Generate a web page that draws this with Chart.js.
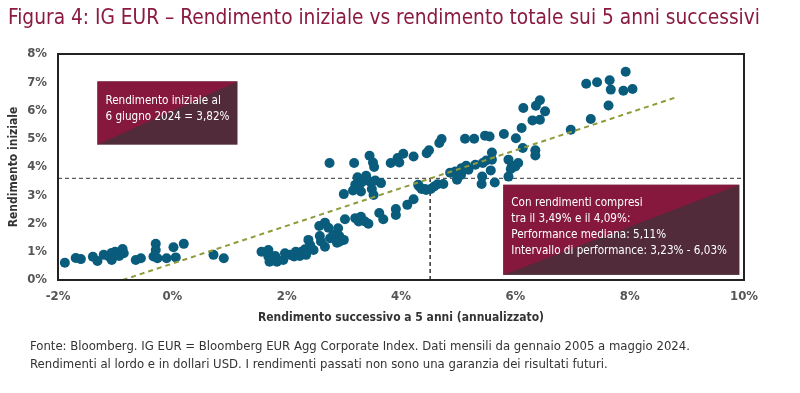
<!DOCTYPE html>
<html lang="it">
<head>
<meta charset="utf-8">
<script src="https://cdn.jsdelivr.net/npm/chart.js@4"></script>
<style>
  body { margin: 0; background: #fff; }
  #wrap { position: relative; width: 800px; height: 393px; overflow: hidden; }
  #chart { position: absolute; left: 0; top: 0; }
  .title {
    position: absolute; left: 8px; top: 5px; white-space: nowrap;
    font-family: "DejaVu Sans Condensed", "Liberation Sans Narrow", sans-serif;
    font-size: 20.7px; color: #8b1a42;
  }
  .note {
    position: absolute; left: 30px; top: 337px; white-space: nowrap;
    font-family: "DejaVu Sans Condensed", "Liberation Sans Narrow", sans-serif;
    font-size: 13px; line-height: 18px; color: #333;
  }
</style>
</head>
<body>
<div id="wrap">
  <canvas id="chart" width="800" height="393"></canvas>
  <div class="title">Figura 4: IG EUR – Rendimento iniziale vs rendimento totale sui 5 anni successivi</div>
  <div class="note">Fonte: Bloomberg. IG EUR = Bloomberg EUR Agg Corporate Index. Dati mensili da gennaio 2005 a maggio 2024.<br>Rendimenti al lordo e in dollari USD. I rendimenti passati non sono una garanzia dei risultati futuri.</div>
</div>
<script>
const FONT = '"DejaVu Sans Condensed", "Liberation Sans Narrow", sans-serif';

// rendimento successivo a 5 anni (x) / rendimento iniziale (y), in %
const forwardReturn = [
  -1.88, -1.69, -1.60, -1.39, -1.31, -1.20, -1.11, -1.06, -1.06, -1.00, -0.97, -0.93, -0.87, -0.85,
  -0.64, -0.55, -0.33, -0.29, -0.29, -0.26, -0.10, 0.02, 0.06, 0.20, 0.72, 0.90,
  1.56, 1.68, 1.70, 1.68, 1.80, 1.83, 1.94, 1.97, 2.06, 2.12, 2.13, 2.16, 2.23, 2.26, 2.29, 2.32,
  2.34, 2.38, 2.41, 2.47, 2.57, 2.58, 2.60, 2.67, 2.67, 2.73, 2.76, 2.82, 2.88, 2.90, 2.92, 2.93,
  3.00, 3.02, 3.20, 3.26, 3.30, 3.37, 3.43, 3.62, 3.69, 3.91, 3.91, 4.11, 4.22,
  2.75, 3.00, 3.16, 3.18, 3.20, 3.24, 3.30, 3.31, 3.39, 3.45, 3.51, 3.53, 3.45, 3.55, 3.65, 3.49, 3.52,
  3.82, 3.94, 3.97, 4.04, 4.22, 4.45, 4.49, 4.67, 4.71, 5.12, 5.28, 5.47, 5.55, 5.80, 6.01,
  6.11, 6.14, 6.30, 6.43, 6.36, 6.43, 6.52, 6.97, 7.32, 7.63, 7.24, 7.43, 7.65, 7.67, 7.89, 7.93, 8.05,
  4.30, 4.32, 4.36, 4.42, 4.44, 4.52, 4.58, 4.64, 4.74, 4.86, 4.92, 4.95, 4.98, 5.05, 5.06, 5.14,
  5.18, 5.30, 5.43, 5.49, 5.42, 5.41, 5.57, 5.59, 5.59, 5.64, 5.88, 5.94, 5.92, 5.88, 6.00, 6.05,
  6.13, 6.35, 6.35
];
const startYield = [
  0.61, 0.78, 0.74, 0.82, 0.67, 0.89, 0.83, 0.71, 0.96, 1.00, 0.92, 0.85, 1.10, 0.95,
  0.71, 0.77, 0.83, 1.28, 1.06, 0.77, 0.77, 1.16, 0.80, 1.28, 0.89, 0.77,
  1.00, 1.06, 0.65, 0.83, 0.85, 0.65, 0.71, 0.95, 0.89, 0.85, 0.83, 1.00, 0.85, 1.00, 0.97, 1.09,
  0.89, 1.42, 1.24, 1.06, 1.91, 1.56, 1.36, 2.03, 1.18, 1.85, 1.48, 1.60, 1.32, 1.83, 1.56, 1.36,
  1.42, 2.15, 2.19, 2.07, 2.24, 2.07, 1.99, 2.37, 2.15, 2.51, 2.30, 2.66, 2.86,
  4.14, 3.04, 3.17, 4.14, 3.37, 3.64, 3.13, 3.45, 3.69, 4.40, 4.16, 4.00, 3.49, 3.52, 3.43, 3.22, 3.01,
  4.14, 4.32, 4.16, 4.47, 4.37, 4.49, 4.59, 4.85, 4.99, 5.00, 5.00, 5.11, 5.08, 5.17, 5.02,
  5.38, 6.09, 5.65, 5.67, 6.17, 6.36, 5.97, 5.32, 5.70, 6.18, 6.95, 7.00, 7.07, 6.74, 6.70, 7.37, 6.76,
  3.37, 3.31, 3.22, 3.22, 3.19, 3.22, 3.31, 3.39, 3.40, 3.80, 3.80, 3.84, 3.55, 3.72, 3.96, 4.04,
  3.90, 4.08, 4.14, 4.23, 3.66, 3.40, 3.88, 4.51, 4.26, 3.45, 4.26, 4.04, 3.93, 3.66, 4.02, 4.14,
  4.67, 4.59, 4.41
];

// linea di tendenza (estremi) e riferimenti
const trendX = [-0.87, 8.83];
const trendY = [0, 6.48];
const currentYield = 3.6;
const matchReturn = 4.51;

const xTicks = [-2, 0, 2, 4, 6, 8, 10];
const yTicks = [0, 1, 2, 3, 4, 5, 6, 7, 8];

// riquadri: [xMin, xMax, yMin, yMax]
const box1Range = [-1.31, 1.14, 4.79, 7.03];
const box1Lines = ['Rendimento iniziale al', '6 giugno 2024 = 3,82%'];
const box2Range = [5.79, 9.92, 0.18, 3.37];
const box2Lines = ['Con rendimenti compresi', 'tra il 3,49% e il 4,09%:', 'Performance mediana: 5,11%', 'Intervallo di performance: 3,23% - 6,03%'];

const points = forwardReturn.map((x, i) => ({ x, y: startYield[i] }));

const frame = {
  id: 'frame',
  afterDatasetsDraw(chart) {
    const { ctx, chartArea: a, scales: { x, y } } = chart;
    const drawBox = (r, lines, first) => {
      const l = x.getPixelForValue(r[0]), rt = x.getPixelForValue(r[1]);
      const b = y.getPixelForValue(r[2]), t = y.getPixelForValue(r[3]);
      ctx.save();
      ctx.fillStyle = '#512b39';
      ctx.fillRect(l, t, rt - l, b - t);
      ctx.beginPath();
      ctx.moveTo(l, t); ctx.lineTo(rt, t); ctx.lineTo(l, b); ctx.closePath();
      ctx.fillStyle = '#86183d';
      ctx.fill();
      ctx.fillStyle = '#fff';
      ctx.font = '11.6px ' + FONT;
      ctx.textBaseline = 'middle';
      lines.forEach((s, i) => ctx.fillText(s, l + 8, t + first + i * 16));
      ctx.restore();
    };
    drawBox(box1Range, box1Lines, 20);
    drawBox(box2Range, box2Lines, 18);
    ctx.save();
    ctx.strokeStyle = '#222';
    ctx.lineWidth = 2;
    ctx.strokeRect(a.left, a.top, a.right - a.left, a.bottom - a.top);
    ctx.restore();
  }
};

new Chart(document.getElementById('chart'), {
  type: 'scatter',
  data: {
    datasets: [
      {
        data: points,
        backgroundColor: '#0a5c7d',
        borderWidth: 0,
        pointRadius: 5,
        order: 1
      },
      {
        type: 'line',
        data: trendX.map((x, i) => ({ x, y: trendY[i] })),
        borderColor: '#8f9b3b',
        borderWidth: 2,
        borderDash: [5, 4],
        pointRadius: 0,
        order: 0
      },
      {
        type: 'line',
        data: [{ x: -2, y: currentYield }, { x: 10, y: currentYield }],
        borderColor: '#333',
        borderWidth: 1,
        borderDash: [4, 3],
        pointRadius: 0,
        order: 2
      },
      {
        type: 'line',
        data: [{ x: matchReturn, y: 0 }, { x: matchReturn, y: currentYield }],
        borderColor: '#333',
        borderWidth: 1.5,
        borderDash: [4, 3],
        pointRadius: 0,
        order: 2
      }
    ]
  },
  options: {
    responsive: false,
    animation: false,
    layout: { padding: { left: 0, right: 56, top: 54, bottom: 68 } },
    plugins: { legend: { display: false }, tooltip: { enabled: false } },
    scales: {
      x: {
        type: 'linear',
        min: -2,
        max: 10,
        afterBuildTicks: s => { s.ticks = xTicks.map(v => ({ value: v })); },
        afterFit: s => { s.height = 45; },
        grid: { display: false, drawTicks: false },
        border: { display: false },
        ticks: {
          padding: 9,
          color: '#555',
          font: { family: FONT, size: 13, weight: 'bold' },
          callback: v => v + '%'
        },
        title: {
          display: true,
          text: 'Rendimento successivo a 5 anni (annualizzato)',
          color: '#333',
          padding: 0,
          font: { family: FONT, size: 12, weight: 'bold' }
        }
      },
      y: {
        min: 0,
        max: 8,
        afterBuildTicks: s => { s.ticks = yTicks.map(v => ({ value: v })); },
        afterFit: s => { s.width = 58; },
        grid: { display: false, drawTicks: false },
        border: { display: false },
        ticks: {
          padding: 11,
          color: '#555',
          font: { family: FONT, size: 13, weight: 'bold' },
          callback: v => v + '%'
        },
        title: {
          display: true,
          text: 'Rendimento iniziale',
          color: '#333',
          padding: { top: 7, bottom: 0 },
          font: { family: FONT, size: 12, weight: 'bold' }
        }
      }
    }
  },
  plugins: [frame]
});
</script>
</body>
</html>
